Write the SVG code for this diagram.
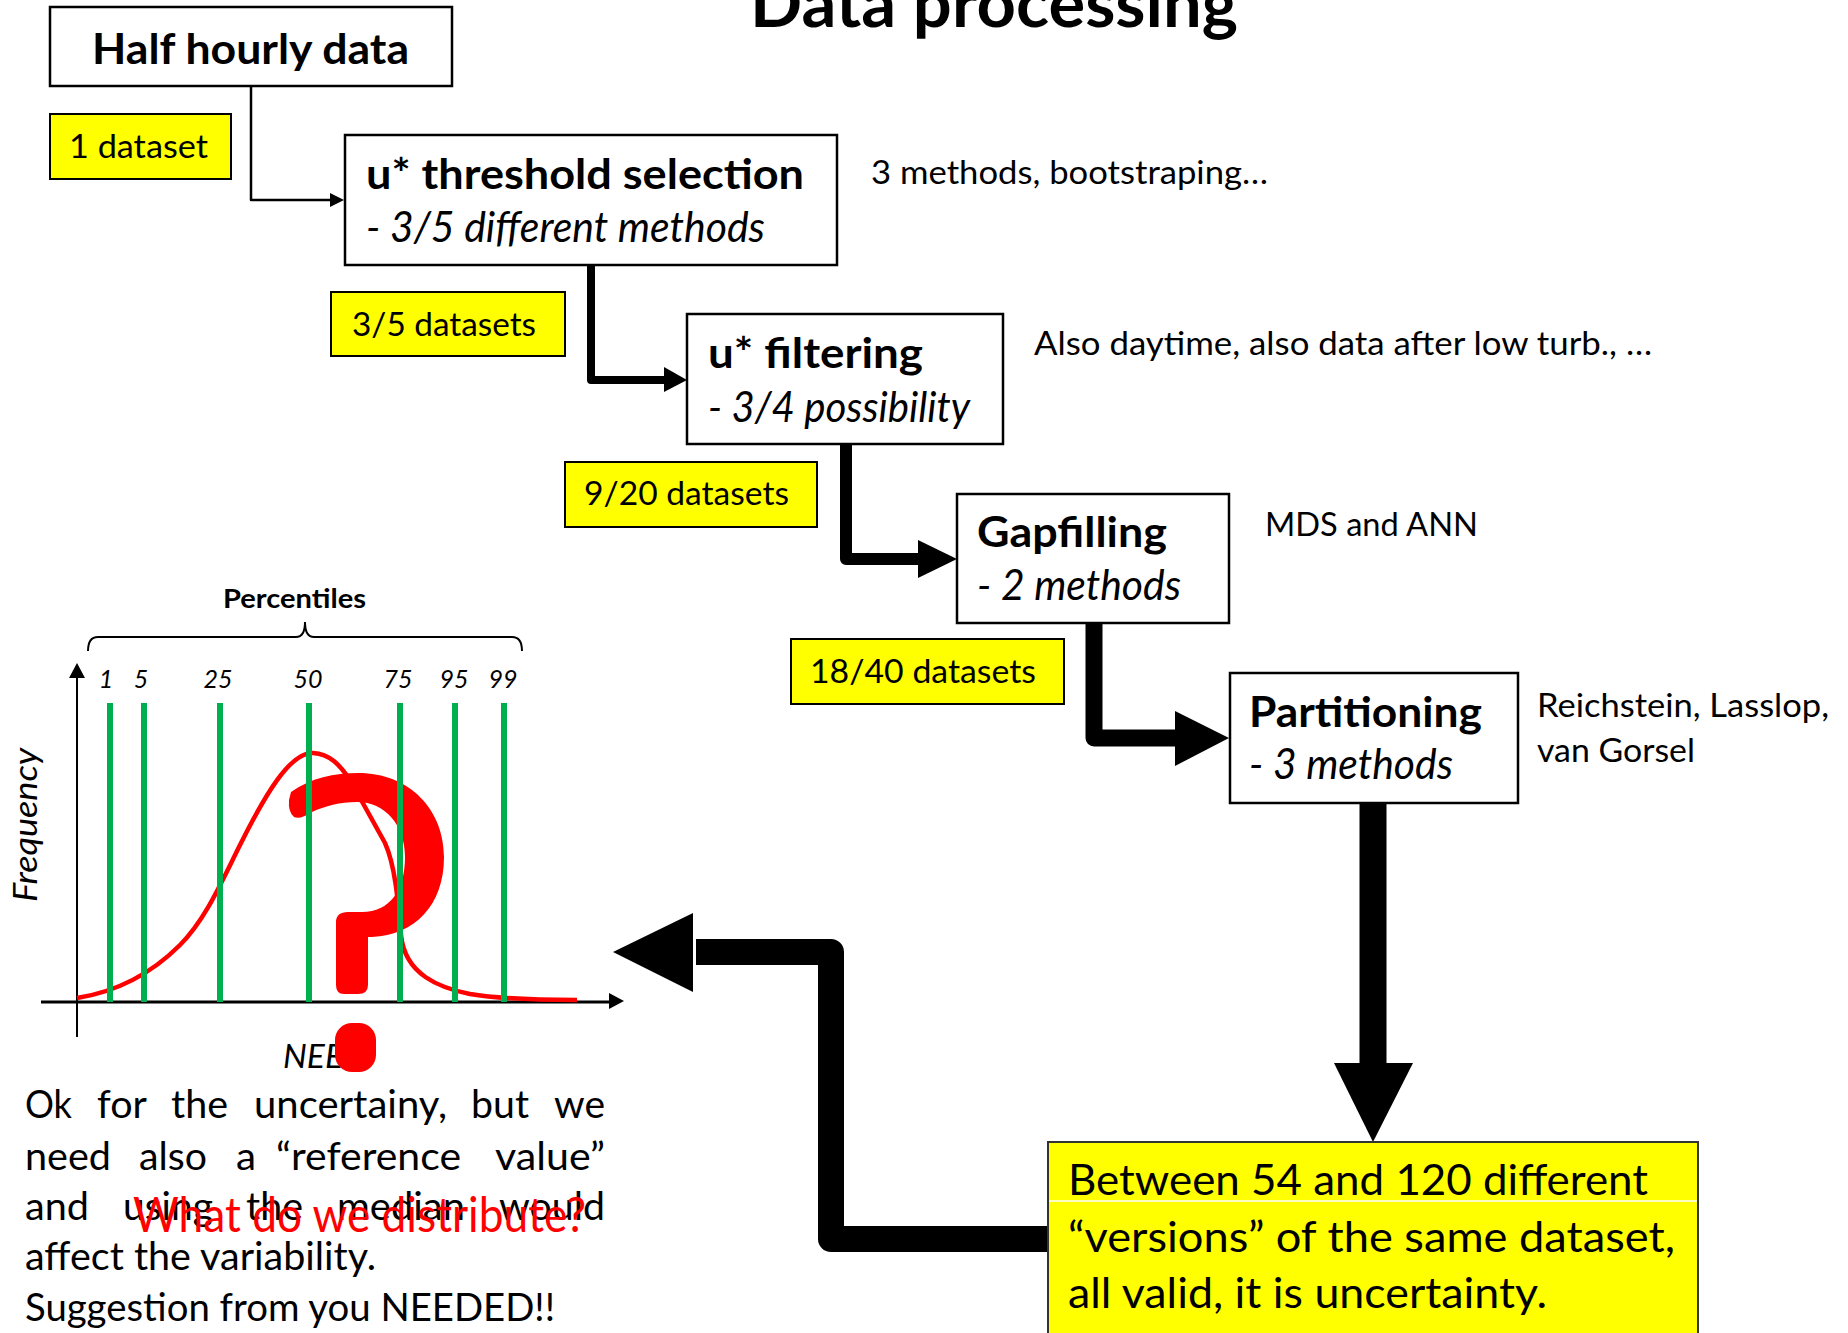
<svg xmlns="http://www.w3.org/2000/svg" width="1848" height="1333" viewBox="0 0 1848 1333">
<style>
text{font-family:Lato,"Liberation Sans",sans-serif;fill:#000}
.b{font-weight:bold}
.i{font-style:italic}
.box{fill:#fff;stroke:#000;stroke-width:2.5}
.yb{fill:#ffff00;stroke:#000;stroke-width:2}
.h{font-size:42px;font-weight:bold}
.s{font-size:42px;font-style:italic}
.n{font-size:33px}
.p{font-size:38px}
.g{stroke:#00b050;stroke-width:6}
.c{fill:none;stroke:#000;stroke-linejoin:round}
</style>
<rect width="1848" height="1333" fill="#fff"/>
<text class="b" x="750" y="27" font-size="66" textLength="488" lengthAdjust="spacingAndGlyphs">Data processing</text>

<g id="connectors">
<polyline class="c" points="251,86 251,200 332,200" stroke-width="2.5"/>
<polygon points="330,193 344,200 330,207"/>
<polyline class="c" points="591,265 591,380 666,380" stroke-width="8"/>
<polygon points="664,367 687,380 664,392"/>
<polyline class="c" points="846,444 846,559 920,559" stroke-width="12"/>
<polygon points="918,540 957,559 918,578"/>
<polyline class="c" points="1094,623 1094,738 1178,738" stroke-width="17"/>
<polygon points="1175,711 1229,738 1175,766"/>
<line x1="1373" y1="803" x2="1373" y2="1066" stroke="#000" stroke-width="27"/>
<polygon points="1334,1063 1413,1063 1373,1142"/>
<polyline class="c" points="1048,1239 831,1239 831,952 696,952" stroke-width="26"/>
<polygon points="693,913 613,952 693,992"/>
</g>

<g id="half-hourly">
<rect class="box" x="50" y="7" width="402" height="79"/>
<text class="h" x="92" y="64" textLength="317" lengthAdjust="spacingAndGlyphs">Half hourly data</text>
</g>
<g id="one-dataset">
<rect class="yb" x="50" y="114" width="181" height="65"/>
<text class="n" x="69" y="158" textLength="139" lengthAdjust="spacingAndGlyphs">1 dataset</text>
</g>
<g id="threshold">
<rect class="box" x="345" y="135" width="492" height="130"/>
<text class="h" x="366" y="189" textLength="438" lengthAdjust="spacingAndGlyphs">u* threshold selection</text>
<text class="s" x="366" y="242" textLength="399" lengthAdjust="spacingAndGlyphs">- 3/5 different methods</text>
</g>
<text class="n" x="871" y="184" textLength="397" lengthAdjust="spacingAndGlyphs">3 methods, bootstraping…</text>
<g id="ds35">
<rect class="yb" x="331" y="292" width="234" height="64"/>
<text class="n" x="352" y="336" textLength="184" lengthAdjust="spacingAndGlyphs">3/5 datasets</text>
</g>
<g id="filtering">
<rect class="box" x="687" y="314" width="316" height="130"/>
<text class="h" x="708" y="368" textLength="215" lengthAdjust="spacingAndGlyphs">u* filtering</text>
<text class="s" x="708" y="422" textLength="262" lengthAdjust="spacingAndGlyphs">- 3/4 possibility</text>
</g>
<text class="n" x="1034" y="355" textLength="618" lengthAdjust="spacingAndGlyphs">Also daytime, also data after low turb., …</text>
<g id="ds920">
<rect class="yb" x="565" y="462" width="252" height="65"/>
<text class="n" x="584" y="505" textLength="205" lengthAdjust="spacingAndGlyphs">9/20 datasets</text>
</g>
<g id="gapfilling">
<rect class="box" x="957" y="494" width="272" height="129"/>
<text class="h" x="977" y="547" textLength="190" lengthAdjust="spacingAndGlyphs">Gapfilling</text>
<text class="s" x="977" y="600" textLength="204" lengthAdjust="spacingAndGlyphs">- 2 methods</text>
</g>
<text class="n" x="1265" y="536" textLength="213" lengthAdjust="spacingAndGlyphs">MDS and ANN</text>
<g id="ds1840">
<rect class="yb" x="791" y="639" width="273" height="65"/>
<text class="n" x="810" y="683" textLength="226" lengthAdjust="spacingAndGlyphs">18/40 datasets</text>
</g>
<g id="partitioning">
<rect class="box" x="1230" y="673" width="288" height="130"/>
<text class="h" x="1249" y="727" textLength="233" lengthAdjust="spacingAndGlyphs">Partitioning</text>
<text class="s" x="1249" y="779" textLength="204" lengthAdjust="spacingAndGlyphs">- 3 methods</text>
</g>
<text class="n" x="1537" y="717" textLength="292" lengthAdjust="spacingAndGlyphs">Reichstein, Lasslop,</text>
<text class="n" x="1537" y="762" textLength="158" lengthAdjust="spacingAndGlyphs">van Gorsel</text>

<g id="result">
<rect x="1048" y="1142" width="650" height="200" fill="#ffff00" stroke="#333" stroke-width="2"/>
<line x1="1049" y1="1201" x2="1697" y2="1201" stroke="#fff" stroke-width="1.5"/>
<text x="1068" y="1195" font-size="43" textLength="580" lengthAdjust="spacingAndGlyphs">Between 54 and 120 different</text>
<text x="1068" y="1252" font-size="43" textLength="607" lengthAdjust="spacingAndGlyphs">“versions” of the same dataset,</text>
<text x="1068" y="1308" font-size="43" textLength="479" lengthAdjust="spacingAndGlyphs">all valid, it is uncertainty.</text>
</g>

<g id="chart">
<text class="b" x="223" y="608" font-size="27" textLength="143" lengthAdjust="spacingAndGlyphs">Percentiles</text>
<path d="M88 651 Q88 637 98 637 L296 637 Q305 637 305 622 Q305 637 314 637 L512 637 Q522 637 522 651" fill="none" stroke="#000" stroke-width="2"/>
<g class="i" font-size="25" text-anchor="middle">
<text x="106" y="688">1</text><text x="141" y="688">5</text><text x="218" y="688">25</text><text x="308" y="688">50</text><text x="398" y="688">75</text><text x="454" y="688">95</text><text x="503" y="688">99</text>
</g>
<text class="i" x="37" y="825" font-size="32" text-anchor="middle" textLength="154" lengthAdjust="spacingAndGlyphs" transform="rotate(-90 37 825)">Frequency</text>
<line x1="77" y1="1037" x2="77" y2="675" stroke="#000" stroke-width="2"/>
<polygon points="69,678 77,663 85,678"/>
<line x1="41" y1="1002" x2="612" y2="1002" stroke="#000" stroke-width="3"/>
<polygon points="609,993 624,1001 609,1009"/>
<path d="M291 792 C310 778 335 773 358 773 C410 773 444 810 444 857 C444 905 415 935 372 937 L368 937 L368 985 Q368 994 358 994 L344 994 Q336 994 336 985 L336 922 Q336 912 348 912 L362 912 C390 912 405 890 405 857 C405 825 385 802 357 802 C340 802 325 806 312 812 Q300 820 294 817 Q288 812 289 800 Z" fill="#ff0000"/>
<path d="M77 998 C115 992 150 975 180 945 C205 920 220 885 240 845 C265 795 290 752 313 753 C330 754 340 765 350 780 L385 843 C395 865 398 900 401 935 C405 975 440 988 470 994 C500 999 540 1000 577 1000" fill="none" stroke="#ff0000" stroke-width="4.5"/>
<line class="g" x1="110" y1="703" x2="110" y2="1002"/>
<line class="g" x1="144" y1="703" x2="144" y2="1002"/>
<line class="g" x1="220" y1="703" x2="220" y2="1002"/>
<line class="g" x1="309" y1="703" x2="309" y2="1002"/>
<line class="g" x1="400" y1="703" x2="400" y2="1002"/>
<line class="g" x1="455" y1="703" x2="455" y2="1002"/>
<line class="g" x1="504" y1="703" x2="504" y2="1002"/>
<text class="i" x="283" y="1068" font-size="33" textLength="60" lengthAdjust="spacingAndGlyphs">NEE</text>
<rect x="335" y="1023" width="41" height="49" rx="17" fill="#ff0000"/>
</g>

<g id="comment">
<text class="p" x="25" y="1118" textLength="47" lengthAdjust="spacingAndGlyphs">Ok</text>
<text class="p" x="97" y="1118" textLength="50" lengthAdjust="spacingAndGlyphs">for</text>
<text class="p" x="171" y="1118" textLength="57" lengthAdjust="spacingAndGlyphs">the</text>
<text class="p" x="254" y="1118" textLength="193" lengthAdjust="spacingAndGlyphs">uncertainy,</text>
<text class="p" x="471" y="1118" textLength="58" lengthAdjust="spacingAndGlyphs">but</text>
<text class="p" x="554" y="1118" textLength="51" lengthAdjust="spacingAndGlyphs">we</text>
<text class="p" x="25" y="1170" textLength="86" lengthAdjust="spacingAndGlyphs">need</text>
<text class="p" x="139" y="1170" textLength="68" lengthAdjust="spacingAndGlyphs">also</text>
<text class="p" x="236" y="1170" textLength="20" lengthAdjust="spacingAndGlyphs">a</text>
<text class="p" x="276" y="1170" textLength="185" lengthAdjust="spacingAndGlyphs">“reference</text>
<text class="p" x="495" y="1170" textLength="110" lengthAdjust="spacingAndGlyphs">value”</text>
<text class="p" x="25" y="1220" textLength="64" lengthAdjust="spacingAndGlyphs">and</text>
<text class="p" x="123" y="1220" textLength="90" lengthAdjust="spacingAndGlyphs">using</text>
<text class="p" x="246" y="1220" textLength="57" lengthAdjust="spacingAndGlyphs">the</text>
<text class="p" x="337" y="1220" textLength="128" lengthAdjust="spacingAndGlyphs">median</text>
<text class="p" x="499" y="1220" textLength="106" lengthAdjust="spacingAndGlyphs">would</text>
<text class="p" x="25" y="1270" textLength="351" lengthAdjust="spacingAndGlyphs">affect the variability.</text>
<text class="p" x="25" y="1321" textLength="530" lengthAdjust="spacingAndGlyphs">Suggestion from you NEEDED!!</text>
<text x="133" y="1232" font-size="48" fill="#ff0000" style="fill:#ff0000" textLength="453" lengthAdjust="spacingAndGlyphs">What do we distribute?</text>
</g>
</svg>
